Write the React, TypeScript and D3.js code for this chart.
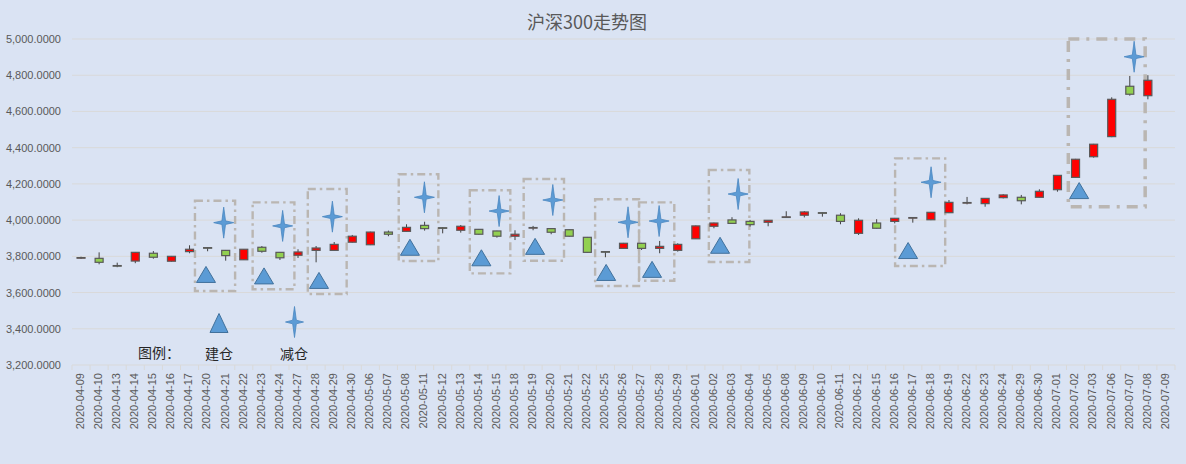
import React, { useEffect, useRef } from "react";
import * as d3 from "d3";

// trading days on the category axis (the last one has no candle)
const dates = [
  "2020-04-09", "2020-04-10", "2020-04-13", "2020-04-14", "2020-04-15", "2020-04-16", "2020-04-17",
  "2020-04-20", "2020-04-21", "2020-04-22", "2020-04-23", "2020-04-24", "2020-04-27", "2020-04-28",
  "2020-04-29", "2020-04-30", "2020-05-06", "2020-05-07", "2020-05-08", "2020-05-11", "2020-05-12",
  "2020-05-13", "2020-05-14", "2020-05-15", "2020-05-18", "2020-05-19", "2020-05-20", "2020-05-21",
  "2020-05-22", "2020-05-25", "2020-05-26", "2020-05-27", "2020-05-28", "2020-05-29", "2020-06-01",
  "2020-06-02", "2020-06-03", "2020-06-04", "2020-06-05", "2020-06-08", "2020-06-09", "2020-06-10",
  "2020-06-11", "2020-06-12", "2020-06-15", "2020-06-16", "2020-06-17", "2020-06-18", "2020-06-19",
  "2020-06-22", "2020-06-23", "2020-06-24", "2020-06-29", "2020-06-30", "2020-07-01", "2020-07-02",
  "2020-07-03", "2020-07-06", "2020-07-07", "2020-07-08", "2020-07-09",
];

const opens = [
  3792, 3789, 3749, 3774, 3817, 3773, 3826, 3848, 3833, 3781, 3850, 3822, 3806, 3833, 3833, 3878,
  3864, 3934, 3938, 3971, 3958, 3944, 3949, 3940, 3911, 3958, 3953, 3947, 3905, 3826, 3844, 3872,
  3844, 3833, 3897, 3966, 4001, 3993, 3988, 4017, 4027, 4041, 4027, 3927, 3984, 3993, 4013, 4002,
  4041, 4096, 4091, 4124, 4126, 4126, 4168, 4236, 4350, 4461, 4739, 4687,
];
const closes = [
  3793, 3767, 3748, 3822, 3795, 3800, 3839, 3847, 3804, 3839, 3828, 3792, 3824, 3846, 3866, 3911,
  3934, 3922, 3960, 3953, 3957, 3966, 3922, 3911, 3922, 3959, 3933, 3911, 3822, 3825, 3872, 3844,
  3855, 3866, 3968, 3984, 3982, 3975, 3999, 4018, 4045, 4040, 3993, 3999, 3955, 4010, 4014, 4043,
  4098, 4097, 4120, 4139, 4107, 4159, 4247, 4336, 4419, 4667, 4695, 4772,
];
const highs = [
  3798, 3822, 3765, 3824, 3829, 3802, 3861, 3850, 3835, 3840, 3857, 3824, 3839, 3857, 3879, 3918,
  3936, 3942, 3977, 3991, 3960, 3973, 3951, 3941, 3944, 3968, 3955, 3948, 3907, 3828, 3874, 3874,
  3885, 3872, 3970, 3986, 4016, 4001, 4000, 4049, 4050, 4043, 4038, 4010, 4005, 4012, 4016, 4045,
  4111, 4128, 4122, 4143, 4139, 4170, 4249, 4338, 4421, 4678, 4796, 4800,
];
const lows = [
  3786, 3756, 3740, 3762, 3787, 3771, 3817, 3828, 3776, 3780, 3820, 3780, 3791, 3767, 3832, 3876,
  3862, 3911, 3937, 3942, 3927, 3931, 3920, 3903, 3890, 3944, 3922, 3909, 3820, 3795, 3842, 3835,
  3817, 3826, 3896, 3955, 3981, 3964, 3966, 4016, 4015, 4019, 3977, 3918, 3953, 3982, 3986, 4000,
  4039, 4087, 4074, 4120, 4087, 4125, 4157, 4234, 4345, 4458, 4687, 4667,
];

// 建仓 / 减仓 marks: [position on the category axis, index value]
const buyMarks: [number, number][] = [
  [7.41, 3700], [10.62, 3692], [13.66, 3667], [18.69, 3850], [22.64, 3792], [25.61, 3855],
  [29.54, 3711], [32.08, 3728], [35.84, 3861], [46.24, 3832], [55.7, 4163],
];
const sellMarks: [number, number][] = [
  [8.39, 3986], [11.65, 3968], [14.4, 4019], [19.49, 4126], [23.62, 4050], [26.59, 4111],
  [30.75, 3988], [32.47, 3995], [36.84, 4144], [47.51, 4209], [58.74, 4902],
];
// highlighted windows: [from, to, top value, bottom value]
const windows: [number, number, number, number][] = [
  [6.8, 9.02, 4107, 3609], [9.99, 12.3, 4098, 3618], [13.04, 15.19, 4172, 3592],
  [18.07, 20.26, 4253, 3774], [22.0, 24.24, 4165, 3706], [24.98, 27.21, 4227, 3776],
  [28.93, 31.36, 4115, 3636], [31.36, 33.31, 4098, 3665], [35.22, 37.46, 4277, 3769],
  [45.52, 48.29, 4341, 3747], [55.1, 59.35, 5000, 4074],
];
const yTicks = [3200, 3400, 3600, 3800, 4000, 4200, 4400, 4600, 4800, 5000];

const W = 1186;
const H = 464;
const LATIN = "'Liberation Sans', Arial, sans-serif";
const CJK = "'Noto Sans CJK SC', sans-serif";

const trianglePath = (w: number, h: number) =>
  `M0,${-h / 2}L${w / 2},${h / 2}L${-w / 2},${h / 2}Z`;
// four-pointed star with thin arms
const starPath = (w: number, h: number) => {
  const a = w / 2, b = h / 2, k = 1.8;
  return `M0,${-b}L${k},${-k}L${a},0L${k},${k}L0,${b}L${-k},${k}L${-a},0L${-k},${-k}Z`;
};

const App: React.FC = () => {
  const svgRef = useRef<SVGSVGElement | null>(null);

  useEffect(() => {
    if (!svgRef.current) return;
    const svg = d3.select(svgRef.current);
    svg.selectAll("*").remove();

    const left = 72, right = 1175, top = 39, bottom = 365;
    const x = d3.scaleBand().domain(dates).range([left, right]).padding(0);
    const xPos = d3.scaleLinear().domain([0, dates.length]).range([left, right]);
    const y = d3.scaleLinear().domain([3200, 5000]).range([bottom, top]);
    const bw = x.bandwidth();

    svg.append("rect").attr("width", W).attr("height", H).attr("fill", "#DAE3F3");

    const defs = svg.append("defs");
    const glow = defs.append("filter").attr("id", "soft").attr("x", "-50%").attr("y", "-50%")
      .attr("width", "200%").attr("height", "200%");
    glow.append("feGaussianBlur").attr("stdDeviation", 0.55);

    svg.append("text")
      .attr("x", 587).attr("y", 29)
      .attr("text-anchor", "middle")
      .style("font-family", CJK).style("font-size", "18px")
      .attr("fill", "#595959")
      .text("沪深300走势图");

    // grid + y labels
    const fmt = d3.format(",.4f");
    svg.append("g").selectAll("line").data(yTicks.slice(1)).enter().append("line")
      .attr("x1", left).attr("x2", right)
      .attr("y1", (d) => y(d)).attr("y2", (d) => y(d))
      .attr("stroke", "#D9D9D9").attr("stroke-width", 1);
    svg.append("g").selectAll("text").data(yTicks).enter().append("text")
      .attr("x", 61).attr("y", (d) => y(d) + 4)
      .attr("text-anchor", "end")
      .style("font-family", LATIN).style("font-size", "11px")
      .attr("fill", "#595959")
      .text((d) => fmt(d));

    // x axis
    const xAxis = svg.append("g");
    xAxis.append("line").attr("x1", left).attr("x2", right).attr("y1", bottom).attr("y2", bottom)
      .attr("stroke", "#D9D9D9");
    xAxis.selectAll(".tick").data(d3.range(dates.length + 1)).enter().append("line")
      .attr("x1", (i) => xPos(i)).attr("x2", (i) => xPos(i))
      .attr("y1", bottom).attr("y2", bottom + 5)
      .attr("stroke", "#D9D9D9");
    xAxis.selectAll("text").data(dates).enter().append("text")
      .attr("transform", (d) => `translate(${x(d)! + bw / 2 - 1},${bottom + 8}) rotate(-90)`)
      .attr("dy", "0.35em")
      .attr("text-anchor", "end")
      .style("font-family", LATIN).style("font-size", "11px")
      .attr("fill", "#595959")
      .text((d) => d);

    // windows
    svg.append("g").selectAll("rect").data(windows).enter().append("rect")
      .attr("x", (d) => xPos(d[0])).attr("width", (d) => xPos(d[1]) - xPos(d[0]))
      .attr("y", (d) => y(d[2])).attr("height", (d) => y(d[3]) - y(d[2]))
      .attr("fill", "none")
      .attr("stroke", "#BAB6B2")
      .attr("stroke-width", (d, i) => (i === windows.length - 1 ? 3.5 : 2.4))
      .attr("stroke-dasharray", (d, i) => (i === windows.length - 1 ? "11 7 3 7" : "8 4 2.5 4"));

    // candles
    const candles = svg.append("g").selectAll("g").data(opens.map((o, i) => i)).enter().append("g")
      .attr("transform", (i) => `translate(${x(dates[i])! + bw / 2},0)`);
    candles.append("line")
      .attr("y1", (i) => y(highs[i])).attr("y2", (i) => y(lows[i]))
      .attr("stroke", "#404040").attr("stroke-width", 1);
    candles.append("rect")
      .attr("x", -4).attr("width", 8)
      .attr("y", (i) => y(Math.max(opens[i], closes[i])))
      .attr("height", (i) => Math.max(Math.abs(y(opens[i]) - y(closes[i])), 0.6))
      .attr("fill", (i) => (closes[i] > opens[i] ? "#FF0000" : "#92D050"))
      .attr("stroke", "#595959").attr("stroke-width", 1.2);

    // buy / sell marks
    svg.append("g").selectAll("path").data(buyMarks).enter().append("path")
      .attr("d", trianglePath(19, 16))
      .attr("transform", (d) => `translate(${xPos(d[0])},${y(d[1])})`)
      .attr("fill", "#5B9BD5").attr("stroke", "#41719C").attr("stroke-width", 1);
    svg.append("g").selectAll("path").data(sellMarks).enter().append("path")
      .attr("d", starPath(20, 31))
      .attr("transform", (d) => `translate(${xPos(d[0])},${y(d[1])})`)
      .attr("fill", "#5B9BD5").attr("stroke", "#4A86C0").attr("stroke-width", 0.8)
      .attr("filter", "url(#soft)");

    // legend
    const lg = svg.append("g");
    lg.append("text").attr("x", 138).attr("y", 358)
      .style("font-family", CJK).style("font-size", "14px").attr("fill", "#262626")
      .text("图例：");
    lg.append("path").attr("d", trianglePath(18, 19))
      .attr("transform", "translate(219,323)")
      .attr("fill", "#5B9BD5").attr("stroke", "#41719C").attr("stroke-width", 1);
    lg.append("path").attr("d", starPath(18, 31))
      .attr("transform", "translate(294.5,322)")
      .attr("fill", "#5B9BD5").attr("stroke", "#4A86C0").attr("stroke-width", 0.8)
      .attr("filter", "url(#soft)");
    lg.append("text").attr("x", 219).attr("y", 359).attr("text-anchor", "middle")
      .style("font-family", CJK).style("font-size", "14px").attr("fill", "#262626")
      .text("建仓");
    lg.append("text").attr("x", 294).attr("y", 359).attr("text-anchor", "middle")
      .style("font-family", CJK).style("font-size", "14px").attr("fill", "#262626")
      .text("减仓");
  }, []);

  return (
    <svg
      ref={svgRef}
      width={W}
      height={H}
      style={{ position: "absolute", left: 0, top: 0 }}
    ></svg>
  );
};

export default App;
